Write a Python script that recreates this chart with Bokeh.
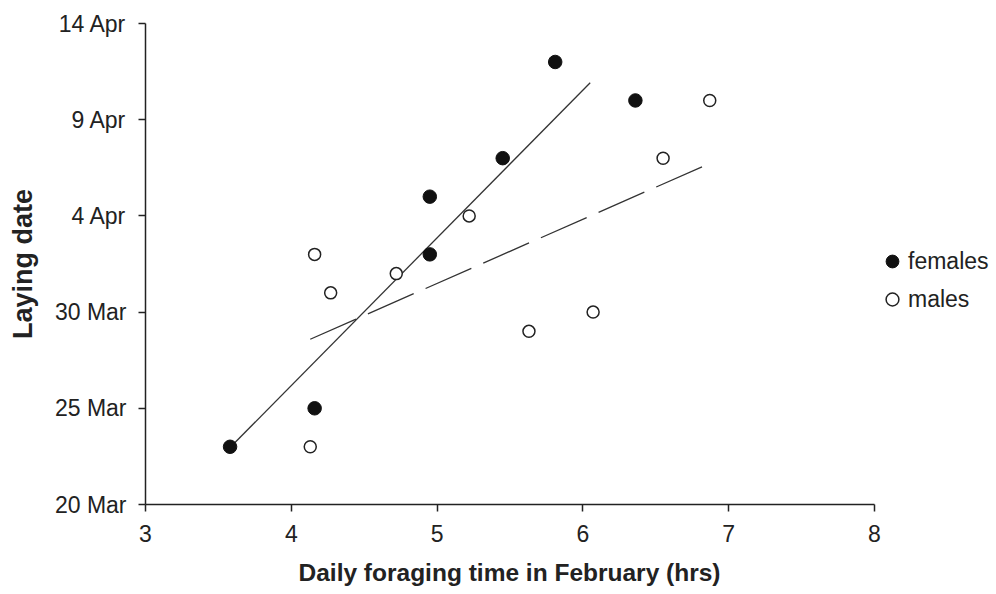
from bokeh.plotting import figure
from bokeh.models import FixedTicker, Range1d, Legend, LegendItem, Title
from bokeh.embed import file_html
from bokeh.resources import INLINE

# Laying date expressed as days after 20 March
female_time = [3.58, 4.16, 4.95, 4.95, 5.45, 5.81, 6.36]
female_day = [3, 5, 13, 16, 18, 23, 21]
male_time = [4.13, 4.16, 4.27, 4.72, 5.22, 5.63, 6.07, 6.55, 6.87]
male_day = [3, 13, 11, 12, 15, 9, 10, 18, 21]

# regression lines (end points)
female_fit_time = [3.58, 6.05]
female_fit_day = [2.96, 21.92]
male_fit_time = [4.13, 6.82]
male_fit_day = [8.59, 17.56]

x_ticks = [3, 4, 5, 6, 7, 8]
y_ticks = [0, 5, 10, 15, 20, 25]
y_tick_labels = ["20 Mar", "25 Mar", "30 Mar", "4 Apr", "9 Apr", "14 Apr"]

FONT = "Liberation Sans"
INK = "#222222"

# frame runs to the right edge so the legend (drawn inside it) is not clipped;
# the x axis itself is bounded to 3..8
p = figure(width=996, height=594, output_backend="svg", toolbar_location=None,
           x_range=Range1d(3, 3 + 851 / 145.8), y_range=Range1d(0, 25),
           min_border_left=145, min_border_right=0,
           min_border_top=23, min_border_bottom=90)
p.outline_line_color = None
p.xgrid.visible = False
p.ygrid.visible = False
p.background_fill_color = "white"
p.border_fill_color = "white"

p.line(female_fit_time, female_fit_day, line_color="#333333", line_width=1.3)
p.line(male_fit_time, male_fit_day, line_color="#333333", line_width=1.3,
       line_dash="50 13")

fem = p.scatter(female_time, female_day, marker="circle", size=13.5,
                fill_color="#111111", line_color="#111111")
mal = p.scatter(male_time, male_day, marker="circle", size=12,
                fill_color="white", line_color="#222222", line_width=1.5)

for ax in (p.xaxis[0], p.yaxis[0]):
    ax.axis_line_color = INK
    ax.axis_line_width = 1.5
    ax.major_tick_line_color = INK
    ax.major_tick_line_width = 1.5
    ax.major_tick_out = 7
    ax.major_tick_in = 0
    ax.minor_tick_line_color = None
    ax.major_label_text_font = FONT
    ax.major_label_text_font_size = "23px"
    ax.major_label_text_color = INK
    ax.axis_label_text_font = FONT
    ax.axis_label_text_font_size = "27px"
    ax.axis_label_text_font_style = "bold"
    ax.axis_label_text_color = INK

p.xaxis.bounds = (3, 8)
p.xaxis.ticker = FixedTicker(ticks=x_ticks)
p.yaxis.ticker = FixedTicker(ticks=y_ticks)
p.yaxis.major_label_overrides = {t: l for t, l in zip(y_ticks, y_tick_labels)}
p.yaxis.axis_label = "Laying date"
p.xaxis.major_label_standoff = 13
p.yaxis.major_label_standoff = 12
p.yaxis.axis_label_standoff = 14

# small blank spacer between the tick labels and the x-axis title
spacer = Title(text=" ", standoff=0, text_font=FONT, text_font_size="9px")
p.add_layout(spacer, "below")

# x-axis title, centred under the 3..8 axis (the frame itself is wider)
xtitle = Title(text="Daily foraging time in February (hrs)", align="left",
               offset=153, standoff=0, vertical_align="bottom",
               text_font=FONT, text_font_size="24.5px",
               text_font_style="bold", text_color=INK)
p.add_layout(xtitle, "below")

legend = Legend(items=[LegendItem(label="females", renderers=[fem]),
                       LegendItem(label="males", renderers=[mal])],
                location=(731, 189), orientation="vertical",
                padding=0, margin=0, spacing=6,
                label_height=32, glyph_height=32, glyph_width=32,
                label_standoff=0,
                label_text_font=FONT, label_text_font_size="23px",
                label_text_color=INK,
                border_line_color=None, background_fill_alpha=0)
p.add_layout(legend, "center")

open("out.html", "w").write(file_html(p, INLINE))
